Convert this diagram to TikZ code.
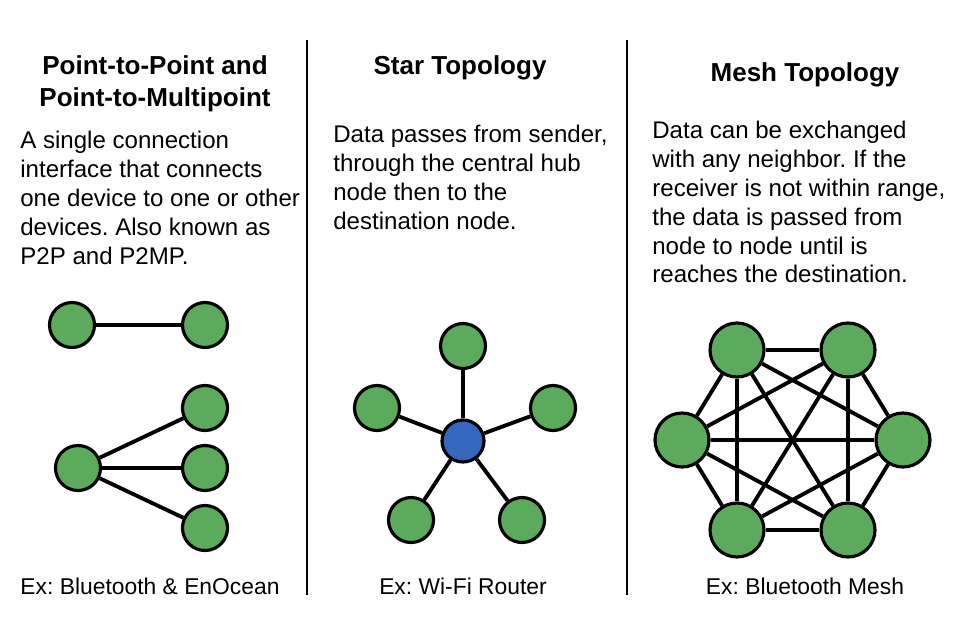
\documentclass[tikz,border=0pt]{standalone}
\usepackage{fontspec}
\setmainfont{Liberation Sans}
\usetikzlibrary{positioning}
\definecolor{nodegreen}{RGB}{92,170,92}
\definecolor{hubblue}{RGB}{52,104,190}
\frenchspacing
\begin{document}
\begin{tikzpicture}[x=0.02cm,y=-0.02cm,
    dev/.style={circle,draw,line width=1.8pt,fill=nodegreen,minimum size=0.9cm,inner sep=0pt},
    bigdev/.style={dev,minimum size=1.08cm},
    hub/.style={dev,fill=hubblue,minimum size=0.84cm},
    link/.style={line width=2.2pt},
    title/.style={font=\fontsize{14.8}{18}\selectfont\bfseries,align=center},
    body/.style={font=\fontsize{13.7}{16.4}\selectfont,align=left,anchor=north west,inner sep=0pt},
    ex/.style={font=\fontsize{13}{14}\selectfont}]
    \useasboundingbox (0,0) rectangle (959,639);
    \coordinate (d1t) at (307,40); \coordinate (d1b) at (307,595);
    \coordinate (d2t) at (627,40); \coordinate (d2b) at (627,595);
    \draw[line width=1.5pt] (d1t) -- (d1b);
    \draw[line width=1.5pt] (d2t) -- (d2b);
    % titles
    \node[title] (t1) at (155,84) {Point-to-Point and\\Point-to-Multipoint};
    \node[title] (t2) at (460,68) {Star Topology};
    \node[title] (t3) at (805,75) {Mesh Topology};
    % descriptions
    \node[body] (b1) at (20,131) {A single connection\\interface that connects\\one device to one or other\\devices. Also known as\\P2P and P2MP.};
    \node[body] (b2) at (333,125) {Data passes from sender,\\through the central hub\\node then to the\\destination node.};
    \node[body] (b3) at (652,121) {Data can be exchanged\\with any neighbor. If the\\receiver is not within range,\\the data is passed from\\node to node until is\\reaches the destination.};
    % point-to-point
    \node[dev] (pa) at (72,325) {};
    \node[dev] (pb) at (205,325) {};
    \draw[link] (pa) -- (pb);
    \node[dev] (ma) at (78,468) {};
    \node[dev] (m1) at (205,408) {};
    \node[dev] (m2) at (205,468) {};
    \node[dev] (m3) at (205,528) {};
    \foreach \n in {m1,m2,m3} \draw[link] (ma) -- (\n);
    % star
    \node[hub] (h) at (463,441) {};
    \node[dev] (s1) at (463,346) {};
    \node[dev] (s2) at (377,408) {};
    \node[dev] (s3) at (553,408) {};
    \node[dev] (s4) at (411,520) {};
    \node[dev] (s5) at (522,520) {};
    \foreach \n in {s1,s2,s3,s4,s5} \draw[link] (h) -- (\n);
    % mesh
    \node[bigdev] (k1) at (737,350) {};
    \node[bigdev] (k2) at (848,350) {};
    \node[bigdev] (k3) at (903,440) {};
    \node[bigdev] (k4) at (848,530) {};
    \node[bigdev] (k5) at (737,530) {};
    \node[bigdev] (k6) at (682,440) {};
    \foreach \a/\b in {k1/k2,k1/k3,k1/k4,k1/k5,k1/k6,k2/k3,k2/k4,k2/k5,k2/k6,
                       k3/k4,k3/k5,k3/k6,k4/k5,k4/k6,k5/k6}
      \draw[link] (\a) -- (\b);
    % examples
    \node[ex] (e1) at (150,586) {Ex: Bluetooth \& EnOcean};
    \node[ex] (e2) at (463,586) {Ex: Wi-Fi Router};
    \node[ex] (e3) at (805,586) {Ex: Bluetooth Mesh};
\end{tikzpicture}
\end{document}
